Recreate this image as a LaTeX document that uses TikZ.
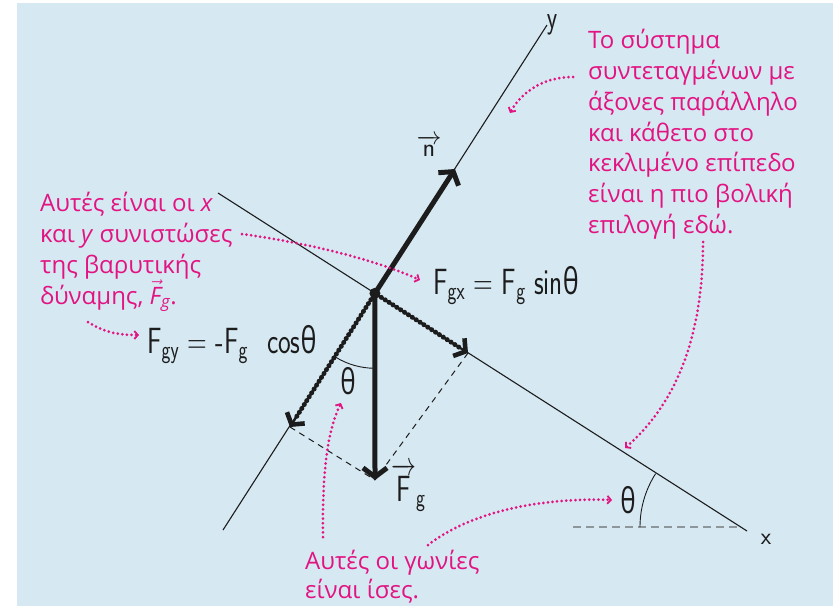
\documentclass[tikz,border=0pt]{standalone}
\usepackage{amsmath}
\usepackage{graphicx}
\usepackage{fontspec}
\setmainfont{Open Sans}
\usetikzlibrary{arrows.meta}
\definecolor{bg}{RGB}{214,232,242}
\definecolor{mag}{RGB}{226,20,130}
\definecolor{ink}{RGB}{28,28,28}
\definecolor{dgray}{RGB}{140,150,155}
\newcommand{\tallx}[1]{\scalebox{1}[1.35]{#1}}
\newcommand{\thx}{{\rmfamily θ}}
\tikzset{
  axisline/.style={draw=ink, line width=1.1pt},
  bigvec/.style={draw=ink, line width=5pt, -{Straight Barb[length=9pt,width=24pt,line width=5pt]}},
  beadbase/.style={draw=ink, line width=2.2pt, -{Straight Barb[length=8pt,width=21pt,line width=4.6pt]}},
  beads/.style={draw=ink, line width=5pt, line cap=round, dash pattern=on 0pt off 4.6pt, shorten >=9pt, shorten <=3pt},
  helper/.style={draw=ink, line width=1pt, dash pattern=on 6pt off 5pt},
  pointer/.style={draw=mag, line width=3pt, line cap=round, dash pattern=on 0pt off 4.6pt, -{Straight Barb[length=3.5pt,width=8pt,line width=1.8pt]}},
  lbl/.style={text=mag, font=\fontsize{24}{28}\selectfont, anchor=base west, inner sep=0pt},
  hand/.style={text=ink, font=\sffamily\fontsize{27}{30}\selectfont, inner sep=0pt},
}
\begin{document}
\begin{tikzpicture}[x=1pt,y=-1pt]
\useasboundingbox (0,0) rectangle (833,606);
\fill[bg] (17,3) rectangle (833,606);

% axes
\coordinate (xa) at (218,193);
\coordinate (xb) at (747,531);
\coordinate (ya) at (223,530);
\coordinate (yb) at (547,25);
\coordinate (O) at (intersection of xa--xb and ya--yb);
\draw[axisline] (xa) -- (xb);
\draw[axisline] (ya) -- (yb);

% vector tips
\coordinate (ntip) at (455,169);
\coordinate (gtip) at (375,480);
\coordinate (gxtip) at (468,353);
\coordinate (gytip) at (290,427);

% helper dashed lines
\draw[helper] (gxtip) -- (gtip);
\draw[helper] (gytip) -- (gtip);

% angle at origin
\draw[draw=ink, line width=0.9pt] (O) ++(90:75) arc[start angle=90, end angle=122, radius=75];

% vectors
\draw[bigvec] (O) -- (ntip);
\draw[bigvec] (O) -- (gtip);
\draw[beadbase] (O) -- (gxtip);
\draw[beads] (O) -- (gxtip);
\draw[beadbase] (O) -- (gytip);
\draw[beads] (O) -- (gytip);
\fill[ink] (O) circle[radius=5.5];

% incline angle
\coordinate (V) at (739,527);
\draw[dgray, line width=2.2pt, dash pattern=on 8pt off 5pt] (573,527) -- (V);
\draw[draw=ink, line width=0.9pt] (V) ++(180:99) arc[start angle=180, end angle=212.6, radius=99];

% axis labels and vector labels
\node[hand, font=\sffamily\fontsize{24}{24}\selectfont] (ylab) at (552,25) {\tallx{y}};
\node[hand, font=\sffamily\fontsize{24}{24}\selectfont] (xlab) at (766,539) {x};
\node[hand, font=\sffamily\fontsize{26}{26}\selectfont] (nlab) at (429,146) {$\overrightarrow{\textsf{n}}$};
\node[hand, anchor=base west] (fglab) at (391,501) {\tallx{$\overrightarrow{\textsf{F}}$\textsubscript{g}}};
\node[hand, font=\fontsize{26}{26}\selectfont] (th1) at (348,381) {\tallx{\thx}};
\node[hand, font=\fontsize{26}{26}\selectfont] (th2) at (628,500) {\tallx{\thx}};
\node[hand, anchor=base west] (fgx) at (433,294) {\tallx{F\textsubscript{gx} = F\textsubscript{g} sin\thx}};
\node[hand, anchor=base west] (fgy) at (147,353) {\tallx{F\textsubscript{gy} = -F\textsubscript{g}\hspace{0.7em}cos\thx}};

% right text block
\node[lbl] (r1) at (588,48) {Το σύστημα};
\node[lbl] (r2) at (588,79) {συντεταγμένων με};
\node[lbl] (r3) at (588,110) {άξονες παράλληλο};
\node[lbl] (r4) at (588,141) {και κάθετο στο};
\node[lbl] (r5) at (588,171) {κεκλιμένο επίπεδο};
\node[lbl] (r6) at (588,202) {είναι η πιο βολική};
\node[lbl] (r7) at (588,233) {επιλογή εδώ.};

% left text block
\node[lbl] (l1) at (40,211) {Αυτές είναι οι \textit{x}};
\node[lbl] (l2) at (40,242) {και \textit{y} συνιστώσες};
\node[lbl] (l3) at (40,273) {της βαρυτικής};
\node[lbl] (l4) at (40,304) {δύναμης, $\vec{\textit{F}}_{\textit{g}}$.};

% bottom text block
\node[lbl] (b1) at (305,569) {Αυτές οι γωνίες};
\node[lbl] (b2) at (305,598) {είναι ίσες.};

% pointer coordinates
\coordinate (p1s) at (573,77);  \coordinate (p1e) at (510,113);
\coordinate (p2s) at (703,242); \coordinate (p2e) at (625,448);
\coordinate (p3s) at (242,234); \coordinate (p3e) at (420,280);
\coordinate (p4s) at (88,322);  \coordinate (p4e) at (139,335);
\coordinate (p5s) at (323,537); \coordinate (p5e) at (341,403);
\coordinate (p6s) at (428,545); \coordinate (p6e) at (612,500);

\draw[pointer] (p1s) .. controls (540,77) and (520,95) .. (p1e);
\draw[pointer] (p2s) .. controls (703,330) and (680,400) .. (p2e);
\draw[pointer] (p3s) .. controls (320,245) and (380,262) .. (p3e);
\draw[pointer] (p4s) .. controls (105,333) and (120,335) .. (p4e);
\draw[pointer] (p5s) .. controls (322,470) and (328,430) .. (p5e);
\draw[pointer] (p6s) .. controls (480,505) and (560,498) .. (p6e);
\end{tikzpicture}
\end{document}
